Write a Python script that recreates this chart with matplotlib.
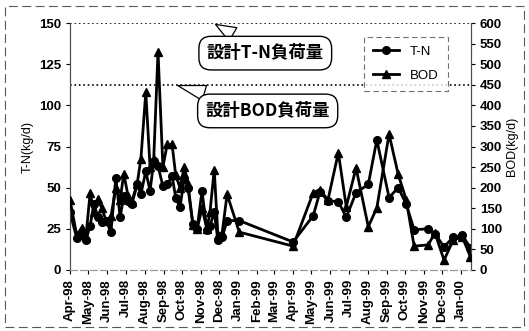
import matplotlib as mpl
mpl.use('Agg')
import matplotlib.pyplot as plt
import matplotlib.dates as mdates
from matplotlib.patches import Rectangle
import numpy as np

plt.rcParams['font.family'] = ['Liberation Sans', 'Noto Sans CJK JP', 'DejaVu Sans']

# sampling dates (same for both series)
dates = np.array([
    '1998-04-01', '1998-04-12', '1998-04-20', '1998-04-27', '1998-05-04', '1998-05-10',
    '1998-05-17', '1998-05-23', '1998-05-30', '1998-06-07', '1998-06-15', '1998-06-22',
    '1998-06-28', '1998-07-05', '1998-07-11', '1998-07-20', '1998-07-26', '1998-08-03',
    '1998-08-10', '1998-08-16', '1998-08-23', '1998-08-31', '1998-09-07', '1998-09-15',
    '1998-09-21', '1998-09-28', '1998-10-05', '1998-10-11', '1998-10-19', '1998-10-26',
    '1998-11-03', '1998-11-11', '1998-11-16', '1998-11-23', '1998-11-29', '1998-12-06',
    '1998-12-14', '1999-01-03',
    '1999-04-01', '1999-05-04', '1999-05-15', '1999-05-28', '1999-06-14', '1999-06-27',
    '1999-07-13', '1999-08-02', '1999-08-16', '1999-09-05', '1999-09-20', '1999-10-03',
    '1999-10-16', '1999-11-08', '1999-11-19', '1999-12-04', '1999-12-19', '2000-01-03',
    '2000-01-16'], dtype='datetime64[D]')

tn = [35, 19.5, 22, 18, 27, 40, 32, 29, 30, 23, 56, 32,
      45, 42, 40, 52, 46, 60, 48, 66, 63, 51, 52, 57,
      44, 38, 56, 50, 28, 25, 48, 24, 27, 35, 18, 20,
      30, 30,
      17, 33, 47.5, 42, 41.5, 32, 47, 52, 79, 44, 50, 40,
      24.5, 25, 22, 14, 20, 21, 13.5]

bod = [170, 85, 102, 80, 188, 140, 172, 150, 120, 130, 200, 170,
       234, 180, 165, 210, 270, 432, 250, 270, 530, 250, 305, 305,
       230, 200, 250, 210, 110, 100, 150, 100, 140, 244, 85, 90,
       184, 92,
       58, 188, 195, 170, 285, 154, 248, 105, 151, 330, 232, 171,
       58, 61, 90, 24, 73, 80, 32]

tn_design = 150
bod_design = 450

fig = plt.figure(figsize=(5.29, 3.31), dpi=100)
ax = fig.add_axes([0.1323, 0.1843, 0.758, 0.7462])
ax2 = ax.twinx()

# outer dashed frame of the chart area
fig.patches.append(Rectangle((0.009, 0.012), 0.982, 0.97, transform=fig.transFigure,
                             fill=False, ec='0.35', lw=0.8, ls=(0, (8, 4))))

l1, = ax.plot(dates, tn, color='black', lw=2.0, marker='o', ms=5.5, label='T-N', zorder=3)
l2, = ax2.plot(dates, bod, color='black', lw=2.0, marker='^', ms=6, label='BOD', zorder=3)

ax.axhline(tn_design, color='black', lw=1.2, ls=':', zorder=2)
ax2.axhline(bod_design, color='black', lw=1.2, ls=':', zorder=2)

ax.set_xlim(np.datetime64('1998-04-01'), np.datetime64('2000-01-17'))
ax.set_ylim(0, 150)
ax2.set_ylim(0, 600)
ax.set_yticks(np.arange(0, 151, 25))
ax2.set_yticks(np.arange(0, 601, 50))

ax.xaxis.set_major_locator(mdates.MonthLocator())
ax.xaxis.set_major_formatter(mdates.DateFormatter('%b-%y'))
for lab in ax.get_xticklabels():
    lab.set_rotation(90)

for a in (ax, ax2):
    a.tick_params(labelsize=9.5, length=3, width=0.8, colors='black')
    for lab in a.get_xticklabels() + a.get_yticklabels():
        lab.set_fontweight('bold')
    a.spines['top'].set_visible(False)
    a.spines['bottom'].set_color('0.6')
    a.spines['bottom'].set_linestyle((0, (6, 3)))
    a.spines['left'].set_color('0.3')
    a.spines['right'].set_color('0.3')

ax.set_ylabel('T-N(kg/d)', fontsize=9, labelpad=4)
ax2.set_ylabel('BOD(kg/d)', fontsize=9, labelpad=3)

bubble = dict(boxstyle='round,pad=0.45,rounding_size=0.7', fc='white', ec='black', lw=1.0)
wedge = dict(arrowstyle='wedge,tail_width=0.9,shrink_factor=0.5', fc='white', ec='black', lw=0.9)
ax2.annotate('設計T-N負荷量', xy=(0.357, 1.0), xycoords='axes fraction',
             xytext=(0.487, 0.878), textcoords='axes fraction', ha='center', va='center',
             fontsize=12.5, fontweight='bold', family=['Noto Sans CJK JP', 'DejaVu Sans'],
             bbox=bubble, arrowprops=wedge, zorder=5)
ax2.annotate('設計BOD負荷量', xy=(0.262, 0.75), xycoords='axes fraction',
             xytext=(0.493, 0.644), textcoords='axes fraction', ha='center', va='center',
             fontsize=12.5, fontweight='bold', family=['Noto Sans CJK JP', 'DejaVu Sans'],
             bbox=bubble, arrowprops=wedge, zorder=5)

leg = ax2.legend(handles=[l1, l2], loc='upper left', bbox_to_anchor=(0.716, 0.972),
                 fontsize=9.5, frameon=True, fancybox=False, borderpad=0.7,
                 handlelength=2.0, labelspacing=0.9)
leg.get_frame().set_edgecolor('0.3')
leg.get_frame().set_linestyle((0, (5, 3)))
leg.get_frame().set_linewidth(0.8)

fig.savefig('out.png', dpi=100)
